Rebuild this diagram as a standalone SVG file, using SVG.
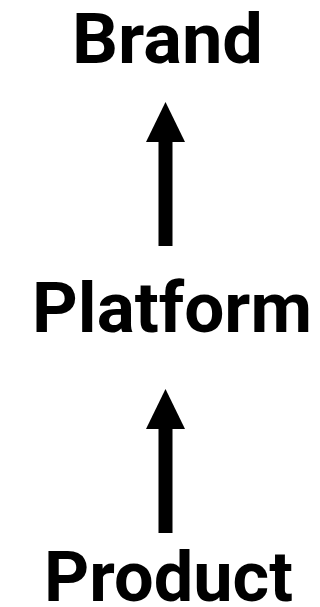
<svg xmlns="http://www.w3.org/2000/svg" width="320" height="607" viewBox="0 0 320 607">
  <style>
    .label { font-family: Roboto, "DejaVu Sans", sans-serif; font-weight: bold; font-size: 70px; fill: #000; }
    .conn { stroke: #000; stroke-width: 14; fill: none; }
  </style>
  <defs>
    <marker id="head" markerUnits="userSpaceOnUse" viewBox="0 0 40 39" markerWidth="40" markerHeight="39" refX="0" refY="19.5" orient="auto">
      <path d="M0,0 L40,19.5 L0,39 Z" fill="#000"/>
    </marker>
  </defs>
  <rect width="320" height="607" fill="#fff"/>
  <g id="brand">
    <text class="label" x="72" y="63" textLength="191" lengthAdjust="spacingAndGlyphs">Brand</text>
  </g>
  <g id="platform">
    <text class="label" x="32" y="332" textLength="280" lengthAdjust="spacingAndGlyphs">Platform</text>
  </g>
  <g id="product">
    <text class="label" x="44" y="601" textLength="249" lengthAdjust="spacingAndGlyphs">Product</text>
  </g>
  <g id="connectors">
    <line class="conn" x1="165.5" y1="246" x2="165.5" y2="142" marker-end="url(#head)"/>
    <line class="conn" x1="165.5" y1="533" x2="165.5" y2="429" marker-end="url(#head)"/>
  </g>
</svg>
